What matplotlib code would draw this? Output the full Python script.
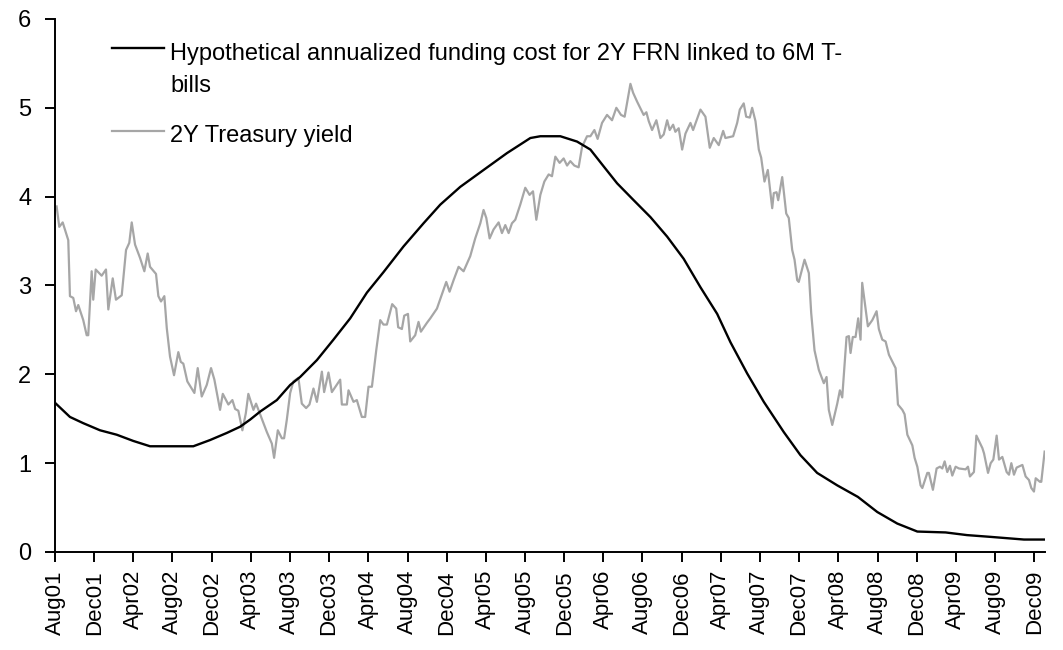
import numpy as np
import matplotlib
matplotlib.use("Agg")
import matplotlib.pyplot as plt
import matplotlib.dates as mdates
from matplotlib.lines import Line2D

# x positions are months elapsed since 1 Aug 2001
frn_months = [0, 1.53, 2.89, 4.60, 6.31, 8.00, 9.71, 14.13, 15.84, 17.55, 18.91, 19.93,
              20.95, 22.66, 24.02, 25.04, 26.75, 28.44, 30.15, 31.86, 33.55, 35.60, 37.64,
              39.35, 41.39, 43.77, 46.16, 48.55, 49.57, 51.61, 53.32, 54.68, 56.04, 57.41,
              59.10, 60.81, 62.52, 64.21, 65.92, 67.63, 68.99, 70.69, 72.39, 74.43, 76.13,
              77.84, 79.89, 82.00, 83.98, 86.02, 88.07, 90.96, 93.14, 95.56, 98.96, 101.07]
frn_cost = [1.68, 1.52, 1.45, 1.37, 1.32, 1.25, 1.19, 1.19, 1.26, 1.34, 1.41, 1.49,
            1.58, 1.71, 1.88, 1.97, 2.16, 2.39, 2.63, 2.92, 3.15, 3.44, 3.70,
            3.91, 4.11, 4.30, 4.49, 4.66, 4.68, 4.68, 4.62, 4.53, 4.34, 4.15,
            3.96, 3.77, 3.55, 3.30, 2.98, 2.68, 2.36, 2.01, 1.69, 1.35, 1.09,
            0.89, 0.75, 0.62, 0.45, 0.32, 0.23, 0.22, 0.19, 0.17, 0.14, 0.14]

ust_months = [0.17, 0.44, 0.79, 1.36, 1.53, 1.87, 2.15, 2.38, 2.89, 3.24, 3.40, 3.75, 3.91,
              4.16, 4.77, 5.21, 5.45, 5.90, 6.23, 6.82, 7.26, 7.59, 7.84, 8.18, 8.69, 9.13,
              9.47, 9.71, 10.32, 10.56, 10.83, 11.17, 11.42, 11.75, 12.16, 12.60, 12.85,
              13.11, 13.52, 14.24, 14.58, 14.99, 15.50, 15.94, 16.28, 16.86, 17.14, 17.71,
              18.12, 18.40, 18.73, 19.14, 19.49, 19.75, 20.27, 20.54, 21.64, 22.15, 22.38,
              22.76, 23.17, 23.40, 23.68, 24.02, 24.35, 24.86, 25.21, 25.65, 25.99, 26.40,
              26.75, 27.26, 27.49, 27.93, 28.28, 29.13, 29.30, 29.81, 29.98, 30.49, 30.83,
              31.34, 31.68, 32.02, 32.37, 32.81, 33.22, 33.55, 33.90, 34.44, 34.85, 35.05,
              35.43, 35.67, 36.05, 36.28, 36.79, 37.13, 37.37, 37.99, 38.33, 39.01, 39.68,
              39.96, 40.30, 40.71, 41.22, 41.73, 42.41, 42.92, 43.44, 43.77, 44.05, 44.39,
              44.79, 45.31, 45.65, 45.99, 46.33, 46.67, 47.01, 47.52, 48.03, 48.47, 48.82,
              49.16, 49.57, 49.98, 50.42, 50.76, 51.10, 51.54, 51.95, 52.30, 52.63, 53.04,
              53.48, 53.83, 54.34, 54.68, 55.09, 55.42, 55.87, 56.38, 56.89, 57.33, 57.81,
              58.18, 58.77, 59.04, 59.45, 60.12, 60.40, 60.64, 60.98, 61.42, 61.83, 62.17,
              62.52, 62.78, 63.13, 63.36, 63.70, 64.05, 64.39, 64.90, 65.17, 65.92, 66.43,
              66.87, 67.28, 67.79, 68.24, 68.47, 69.26, 69.67, 69.94, 70.34, 70.59, 70.96,
              71.20, 71.54, 71.88, 72.12, 72.46, 72.80, 73.25, 73.41, 73.69, 73.86, 74.27,
              74.68, 74.94, 75.29, 75.53, 75.80, 75.96, 76.55, 76.99, 77.23, 77.57, 78.01,
              78.52, 78.80, 79.03, 79.38, 79.89, 80.16, 80.40, 80.84, 81.08, 81.25, 81.48,
              81.76, 82.03, 82.27, 82.44, 83.02, 83.47, 83.91, 84.14, 84.49, 84.83, 85.17,
              85.85, 86.09, 86.54, 86.77, 87.05, 87.56, 87.79, 88.07, 88.40, 88.58, 89.09,
              89.25, 89.66, 90.04, 90.38, 90.62, 90.86, 91.13, 91.40, 91.64, 91.98, 92.32,
              93.00, 93.24, 93.44, 93.85, 94.10, 94.71, 94.88, 95.29, 95.56, 95.83, 96.17,
              96.41, 96.75, 97.19, 97.43, 97.67, 97.94, 98.21, 98.80, 99.13, 99.47, 99.71,
              99.98, 100.16, 100.59, 100.73, 101.07]
ust_yield = [3.89, 3.66, 3.71, 3.51, 2.88, 2.86, 2.71, 2.78, 2.61, 2.44, 2.44, 3.16, 2.84,
             3.18, 3.11, 3.18, 2.73, 3.08, 2.84, 2.89, 3.40, 3.48, 3.71, 3.46, 3.31, 3.16,
             3.36, 3.21, 3.13, 2.88, 2.82, 2.88, 2.52, 2.20, 1.99, 2.25, 2.14,
             2.12, 1.92, 1.79, 2.07, 1.75, 1.88, 2.07, 1.94, 1.60, 1.78, 1.66,
             1.71, 1.61, 1.59, 1.37, 1.56, 1.78, 1.60, 1.67, 1.35, 1.22, 1.06,
             1.37, 1.28, 1.28, 1.49, 1.79, 1.92, 1.96, 1.67, 1.62, 1.66, 1.84,
             1.69, 2.03, 1.80, 2.02, 1.80, 1.94, 1.66, 1.66, 1.82, 1.69, 1.71,
             1.52, 1.52, 1.86, 1.86, 2.27, 2.61, 2.56, 2.56, 2.79, 2.74, 2.53,
             2.51, 2.66, 2.68, 2.37, 2.44, 2.59, 2.48, 2.58, 2.63, 2.74, 2.95,
             3.04, 2.93, 3.06, 3.21, 3.16, 3.33, 3.53, 3.70, 3.85, 3.76, 3.53,
             3.63, 3.71, 3.59, 3.68, 3.59, 3.70, 3.74, 3.91, 4.10, 4.02, 4.06,
             3.74, 4.02, 4.17, 4.25, 4.23, 4.45, 4.38, 4.43, 4.35, 4.40, 4.35,
             4.33, 4.56, 4.68, 4.68, 4.75, 4.65, 4.83, 4.92, 4.86, 5.00, 4.92,
             4.90, 5.27, 5.17, 5.07, 4.92, 4.95, 4.85, 4.75, 4.86, 4.66, 4.70,
             4.86, 4.75, 4.81, 4.73, 4.77, 4.53, 4.71, 4.83, 4.75, 4.98, 4.90,
             4.55, 4.66, 4.58, 4.74, 4.66, 4.68, 4.83, 4.98, 5.05, 4.90, 4.89,
             5.00, 4.85, 4.53, 4.44, 4.17, 4.30, 3.87, 4.04, 4.05, 3.96, 4.22,
             3.81, 3.76, 3.40, 3.29, 3.06, 3.04, 3.29, 3.14, 2.69, 2.27, 2.05,
             1.90, 1.97, 1.60, 1.43, 1.67, 1.82, 1.74, 2.42, 2.43, 2.24, 2.42,
             2.42, 2.63, 2.39, 3.03, 2.54, 2.61, 2.71, 2.51, 2.39, 2.37, 2.22,
             2.07, 1.66, 1.60, 1.55, 1.32, 1.20, 1.06, 0.96, 0.75, 0.72, 0.89,
             0.89, 0.70, 0.94, 0.96, 0.94, 1.02, 0.90, 0.97, 0.86, 0.96, 0.94,
             0.93, 0.96, 0.85, 0.90, 1.31, 1.17, 1.11, 0.89, 1.00, 1.04, 1.31,
             1.04, 1.07, 0.90, 0.87, 1.00, 0.87, 0.95, 0.98, 0.85, 0.81, 0.72,
             0.68, 0.83, 0.79, 0.79, 1.13]

frn_label = ["Hypothetical annualized funding cost for 2Y FRN linked to 6M T-", "bills"]
ust_label = "2Y Treasury yield"

start = np.datetime64("2001-08-01")


def to_dates(months):
    hours = np.round(np.asarray(months) * 30.4375 * 24).astype("timedelta64[h]")
    return start + hours


plt.rcParams["font.family"] = ["Liberation Sans", "DejaVu Sans"]

fig = plt.figure(figsize=(10.63, 6.5), dpi=100)
ax = fig.add_axes([0.0517, 0.1508, 0.9313, 0.82])

ax.plot(to_dates(ust_months), ust_yield, color="#a6a6a6", lw=1.6, zorder=2)
ax.plot(to_dates(frn_months), frn_cost, color="black", lw=1.7, zorder=3)

ax.set_ylim(0, 6)
ax.set_yticks(range(0, 7))
ax.set_xlim(start, to_dates([101.1])[0])
ax.xaxis.set_major_locator(mdates.MonthLocator(bymonth=[4, 8, 12]))
ax.xaxis.set_major_formatter(mdates.DateFormatter("%b%y"))

for s in ["top", "right"]:
    ax.spines[s].set_visible(False)
for s in ["left", "bottom"]:
    ax.spines[s].set_linewidth(1.4)
ax.tick_params(axis="both", direction="out", length=7, width=1.4, labelsize=16)
ax.tick_params(axis="y", pad=10, labelsize=17)
ax.tick_params(axis="x", pad=6, labelrotation=90)

# legend drawn by hand so the handle sits on the first text line
fig.add_artist(Line2D([0.105, 0.154], [0.926, 0.926], color="black", lw=1.7,
                      transform=fig.transFigure))
fig.text(0.160, 0.9077, frn_label[0], fontsize=17, va="baseline")
fig.text(0.160, 0.8585, frn_label[1], fontsize=17, va="baseline")
fig.add_artist(Line2D([0.105, 0.154], [0.7985, 0.7985], color="#a6a6a6", lw=1.6,
                      transform=fig.transFigure))
fig.text(0.160, 0.7823, ust_label, fontsize=17, va="baseline")

fig.savefig("out.png", dpi=100)
